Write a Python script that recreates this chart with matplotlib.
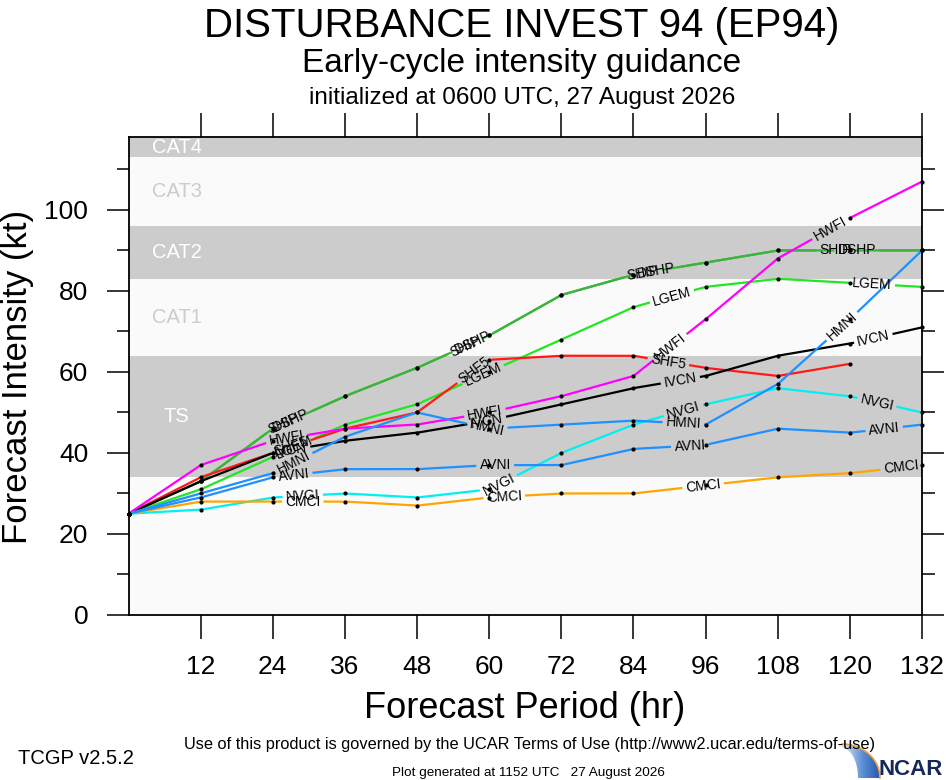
import numpy as np
import matplotlib
matplotlib.use('Agg')
import matplotlib.pyplot as plt
from matplotlib.patches import Polygon

plt.rcParams['font.family'] = ['Liberation Sans', 'DejaVu Sans']

# ---------------- data ----------------
hours = [0, 12, 24, 36, 48, 60, 72, 84, 96, 108, 120, 132]
SHIP = [25, 33, 46, 54, 61, 69, 79, 84, 87, 90, 90, 90]
DSHP = [25, 33, 46, 54, 61, 69, 79, 84, 87, 90, 90, 90]
LGEM = [25, 31, 39, 47, 52, 60, 68, 76, 81, 83, 82, 81]
SHF5 = [25, 34, 40, 46, 50, 63, 64, 64, 61, 59, 62, None]
HWFI = [25, 37, 43, 46, 47, 50, 54, 59, 73, 88, 98, 107]
IVCN = [25, 33, 40, 43, 45, 48, 52, 56, 59, 64, 67, 71]
HMNI = [25, 30, 35, 44, 50, 46, 47, 48, 47, 57, 73, 90]
AVNI = [25, 29, 34, 36, 36, 37, 37, 41, 42, 46, 45, 47]
NVGI = [25, 26, 29, 30, 29, 31, 40, 47, 52, 56, 54, 50]
CMCI = [25, 28, 28, 28, 27, 29, 30, 30, 32, 34, 35, 37]

x_ticks = [12, 24, 36, 48, 60, 72, 84, 96, 108, 120, 132]
y_ticks = [0, 20, 40, 60, 80, 100]

band_names = ['TS', 'CAT1', 'CAT2', 'CAT3', 'CAT4']
band_lo = [34, 64, 83, 96, 113]
band_hi = [64, 83, 96, 113, 137]

# ---------------- styles ----------------
series = [
    ('SHIP', SHIP, '#3cb43c', [25.8, 56.0, 85.6, 117.6]),
    ('DSHP', DSHP, '#3cb43c', [27.0, 57.3, 87.7, 121.2]),
    ('LGEM', LGEM, '#22e622', [27.5, 59.0, 90.4, 123.7]),
    ('SHF5', SHF5, '#ff1a1a', [27.0, 57.5, 89.8]),
    ('IVCN', IVCN, '#000000', [27.0, 59.6, 91.8, 123.9]),
    ('HWFI', HWFI, '#ff00ff', [26.3, 59.3, 90.1, 116.8]),
    ('NVGI', NVGI, '#00f0f0', [29.0, 61.6, 92.3, 124.5]),
    ('CMCI', CMCI, '#ffa500', [29.0, 62.5, 95.6, 128.5]),
    ('AVNI', AVNI, '#1e90ff', [27.5, 61.0, 93.4, 125.7]),
    ('HMNI', HMNI, '#1e90ff', [27.5, 59.6, 92.3, 118.7]),
]

W, H = 946, 780
fig = plt.figure(figsize=(W / 100, H / 100), dpi=100)
ax = fig.add_axes([128.5 / W, 1 - 615 / H, (922 - 128.5) / W, (615 - 137) / H])
ax.set_xlim(0, 132)
ax.set_ylim(0, 118)
ax.set_facecolor('#fafafa')

gray = '#cccccc'
light = '#fafafa'
for i, (nm, lo, hi) in enumerate(zip(band_names, band_lo, band_hi)):
    fc = gray if i % 2 == 0 else light
    ax.axhspan(lo, hi, color=fc, lw=0, zorder=0)
    tc = 'white' if i % 2 == 0 else '#cccccc'
    ymid = (lo + min(hi, 118)) / 2.0
    ax.text(8, ymid, nm, color=tc, fontsize=14.5, ha='center', va='center',
            zorder=1, clip_on=True)

ax.set_xticks(x_ticks)
ax.set_xticklabels([str(t) for t in x_ticks])
ax.set_yticks(y_ticks)
ax.set_yticklabels([str(t) for t in y_ticks])
ax.set_yticks([10, 30, 50, 70, 90, 110], minor=True)
ax.tick_params(axis='x', which='major', direction='out', length=17, width=1.1,
               labelsize=19, pad=12, top=True, bottom=True)
ax.tick_params(axis='y', which='major', direction='out', length=16, width=1.1,
               labelsize=19, pad=13, left=True, right=True)
ax.tick_params(axis='y', which='minor', direction='out', length=9, width=1.1,
               left=True, right=True)
for sp in ax.spines.values():
    sp.set_linewidth(1.3)
    sp.set_zorder(10)

fig.canvas.draw()
renderer = fig.canvas.get_renderer()

for name, vals, color, lab_hours in series:
    h = np.array([hr for hr, v in zip(hours, vals) if v is not None], float)
    v = np.array([vv for vv in vals if vv is not None], float)
    hd = np.linspace(h[0], h[-1], int((h[-1] - h[0]) * 20) + 1)
    vd = np.interp(hd, h, v)
    disp = ax.transData.transform(np.column_stack([hd, vd]))
    seg = np.hypot(np.diff(disp[:, 0]), np.diff(disp[:, 1]))
    s = np.concatenate([[0.0], np.cumsum(seg)])
    mask = np.zeros(hd.shape, bool)
    for lh in lab_hours:
        ly = np.interp(lh, h, v)
        t = ax.text(lh, ly, name, fontsize=10, ha='center', va='center',
                    rotation_mode='anchor', zorder=6, color='black')
        w = t.get_window_extent(renderer).width
        i = int(np.clip(np.searchsorted(h, lh, side='right'), 1, len(h) - 1))
        p0 = ax.transData.transform((h[i - 1], v[i - 1]))
        p1 = ax.transData.transform((h[i], v[i]))
        ang = np.degrees(np.arctan2(p1[1] - p0[1], p1[0] - p0[0]))
        t.set_rotation(ang)
        sc = np.interp(lh, hd, s)
        mask |= (s > sc - w / 2 - 3) & (s < sc + w / 2 + 3)
    vp = vd.copy()
    vp[mask] = np.nan
    ax.plot(hd, vp, color=color, lw=1.6, solid_capstyle='butt', zorder=3,
            clip_on=False)
    ax.plot(h, v, 'o', color='black', ms=3, mec='none', zorder=4, clip_on=False)

# ---------------- text ----------------
fig.text(522 / W, 1 - 37 / H, 'DISTURBANCE INVEST 94 (EP94)', fontsize=29,
         ha='center', va='baseline')
fig.text(522 / W, 1 - 72 / H, 'Early-cycle intensity guidance', fontsize=24,
         ha='center', va='baseline')
fig.text(522 / W, 1 - 104 / H, 'initialized at 0600 UTC, 27 August 2026',
         fontsize=17.5, ha='center', va='baseline')
fig.text(18 / W, 1 - 377 / H, 'Forecast Intensity (kt)', fontsize=25,
         rotation=90, ha='center', va='center')
fig.text(525 / W, 1 - 708 / H, 'Forecast Period (hr)', fontsize=26,
         ha='center', va='center')
fig.text(529 / W, 1 - 744 / H,
         'Use of this product is governed by the UCAR Terms of Use (http://www2.ucar.edu/terms-of-use)',
         fontsize=11.8, ha='center', va='center')
fig.text(18 / W, 1 - 758 / H, 'TCGP v2.5.2', fontsize=14.5, ha='left', va='center')
fig.text(528 / W, 1 - 773 / H, 'Plot generated at 1152 UTC   27 August 2026',
         fontsize=9.7, ha='center', va='center')

# NCAR logo
lax = fig.add_axes([840 / W, 0, 106 / W, 40 / H])
lax.axis('off')
grad = np.linspace(0, 1, 64)[None, :]
cmap = matplotlib.colors.LinearSegmentedColormap.from_list(
    'b', ['#e4ecf8', '#5b8fd6', '#1f4fa8'])
img = lax.imshow(grad, extent=[842, 882, 778, 742], cmap=cmap, aspect='auto')
tt = np.linspace(0, 1, 20)
arc_x = list(842 + 38 * np.sin(tt * np.pi / 2))
arc_y = list(778 - 34 * np.cos(tt * np.pi / 2))
inner_x = list(842 + 16 * np.sin(tt[::-1] * np.pi / 2))
inner_y = list(778 - 30 * np.cos(tt[::-1] * np.pi / 2))
poly = Polygon(list(zip(arc_x + [860], arc_y + [778])) + list(zip(inner_x, inner_y)),
               closed=True, transform=lax.transData, facecolor='none', edgecolor='none')
lax.add_patch(poly)
img.set_clip_path(poly)
lax.plot(arc_x, arc_y, color='#f0a040', lw=1.2)
lax.set_xlim(840, 946)
lax.set_ylim(780, 740)
fig.text(943 / W, 1 - 775 / H, 'NCAR', fontsize=16, fontweight='bold',
         color='#14295a', ha='right', va='baseline')

fig.savefig('out.png', dpi=100)
